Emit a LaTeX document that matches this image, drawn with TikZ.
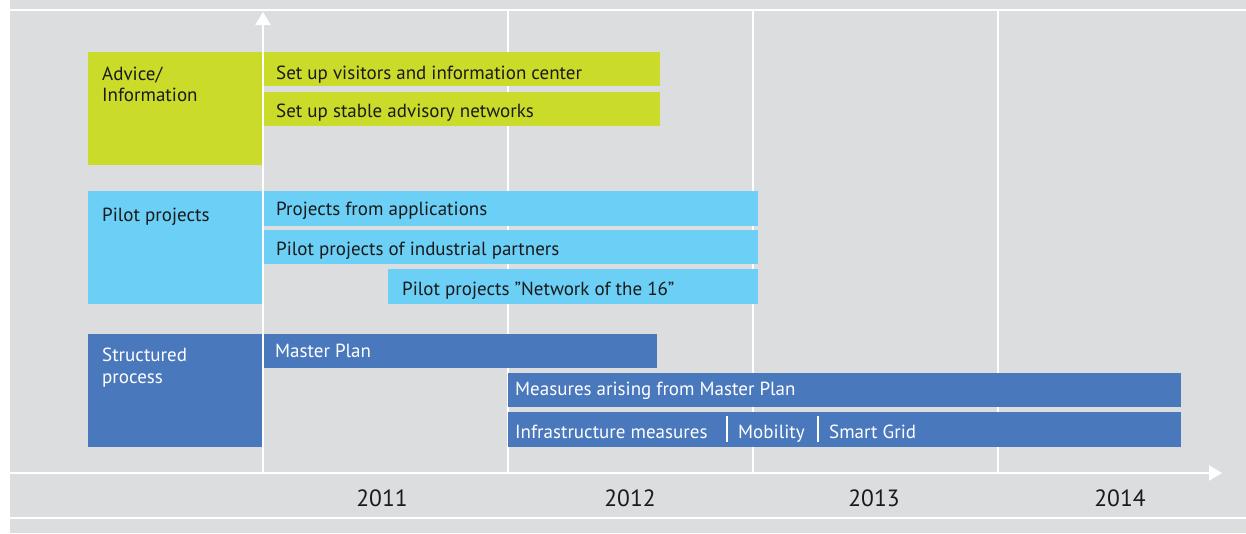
\documentclass[tikz,border=0pt]{standalone}
\usepackage{fontspec}
\setmainfont{PT Sans}
\usetikzlibrary{arrows.meta}
\definecolor{bggray}{HTML}{DCDDDF}
\definecolor{cgreen}{HTML}{CBDB2A}
\definecolor{clight}{HTML}{6BCFF6}
\definecolor{cdark}{HTML}{4A78BD}
\definecolor{ctext}{HTML}{1A1A1A}
\tikzset{
  bar/.style={draw=none, inner sep=0pt, anchor=north west, minimum height=34pt},
  lbl/.style={anchor=base west, inner sep=0pt, font=\fontsize{19}{22}\selectfont, text=ctext},
  lblw/.style={lbl, text=white},
  year/.style={anchor=base, inner sep=0pt, font=\fontsize{23.5}{26}\selectfont, text=ctext},
  grid/.style={white, line width=2pt},
  axis/.style={white, line width=2pt, -{Triangle[length=13pt,width=15pt]}},
}
\begin{document}
\begin{tikzpicture}[x=1pt,y=-1pt]
\useasboundingbox (0,0) rectangle (1246,533);
\fill[bggray] (10,0) rectangle (1246,533);
% horizontal white lines
\draw[grid] (10,10) -- (1246,10);
\draw[grid] (10,518) -- (1246,518);
% grid lines
\foreach \x in {508,753,998} \draw[grid] (\x,10) -- (\x,473);
% category boxes
\node[bar, fill=cgreen, minimum width=174pt, minimum height=113pt] (advbox) at (88,52) {};
\node[bar, fill=clight, minimum width=174pt, minimum height=113pt] (pilbox) at (88,191) {};
\node[bar, fill=cdark, minimum width=174pt, minimum height=113pt] (strbox) at (88,334) {};
\node[lbl] (advtxt1) at (102,80) {Advice/};
\node[lbl] (advtxt2) at (102,101) {Information};
\node[lbl] (piltxt) at (102,221) {Pilot projects};
\node[lblw] (strtxt1) at (102,361) {Structured};
\node[lblw] (strtxt2) at (102,383) {process};
% green bars
\node[bar, fill=cgreen, minimum width=396pt] (g1) at (264,52) {};
\node[lbl] (g1t) at (276,79) {Set up visitors and information center};
\node[bar, fill=cgreen, minimum width=396pt] (g2) at (264,92) {};
\node[lbl] (g2t) at (276,117) {Set up stable advisory networks};
% light blue bars
\node[bar, fill=clight, minimum width=494pt, minimum height=35pt] (l1) at (264,191) {};
\node[lbl] (l1t) at (276,215) {Projects from applications};
\node[bar, fill=clight, minimum width=494pt] (l2) at (264,230) {};
\node[lbl] (l2t) at (276,255) {Pilot projects of industrial partners};
\node[bar, fill=clight, minimum width=370pt, minimum height=35pt] (l3) at (388,269) {};
\node[lbl] (l3t) at (402,295) {Pilot projects ”Network of the 16”};
% dark blue bars
\node[bar, fill=cdark, minimum width=393pt] (d1) at (264,334) {};
\node[lblw] (d1t) at (275,357) {Master Plan};
\node[bar, fill=cdark, minimum width=673pt] (d2) at (508,373) {};
\node[lblw] (d2t) at (515,395) {Measures arising from Master Plan};
\node[bar, fill=cdark, minimum width=673pt, minimum height=35pt] (d3) at (508,412) {};
\node[lblw] (d3t) at (515,438) {Infrastructure measures};
\node[lblw] (d3m) at (738,438) {Mobility};
\node[lblw] (d3s) at (829,438) {Smart Grid};
\coordinate (s1a) at (727,416); \coordinate (s1b) at (727,442);
\coordinate (s2a) at (818,416); \coordinate (s2b) at (818,442);
\draw[grid] (s1a) -- (s1b);
\draw[grid] (s2a) -- (s2b);
% axes
\coordinate (origin) at (263,473);
\coordinate (ytip) at (263,12);
\coordinate (xstart) at (10,473);
\coordinate (xtip) at (1222,473);
\draw[axis] (origin) -- (ytip);
\draw[axis] (xstart) -- (xtip);
% years
\node[year] (y11) at (382,506) {2011};
\node[year] (y12) at (630,506) {2012};
\node[year] (y13) at (874,506) {2013};
\node[year] (y14) at (1120,506) {2014};
\end{tikzpicture}
\end{document}
